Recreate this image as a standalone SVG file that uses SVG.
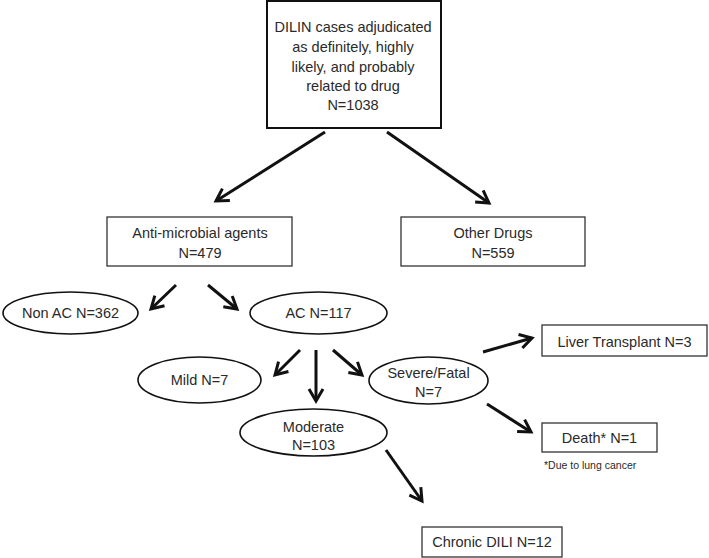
<svg xmlns="http://www.w3.org/2000/svg" width="709" height="558" viewBox="0 0 709 558">
<style>
text{font-family:"Liberation Sans",Arial,sans-serif;font-size:14.5px;fill:#2a2a2a;text-anchor:middle}
.box{fill:#fff;stroke:#333;stroke-width:1.3}
.bold{fill:#fff;stroke:#111;stroke-width:2}
.ell{fill:#fff;stroke:#111;stroke-width:1.6}
.arr{stroke:#111;stroke-width:3;fill:none;marker-end:url(#ah)}
text.note{font-size:10.5px;text-anchor:start}
</style>
<defs>
<marker id="ah" markerUnits="userSpaceOnUse" viewBox="-16 -10 20 20" refX="0" refY="0" markerWidth="20" markerHeight="20" orient="auto">
<path d="M-12,-7 L0,0 L-12,7" fill="none" stroke="#111" stroke-width="3"/>
</marker>
</defs>
<rect width="709" height="558" fill="#fff"/>
<g id="connectors">
<line class="arr" x1="325" y1="132" x2="216" y2="201"/>
<line class="arr" x1="387" y1="132" x2="489" y2="203"/>
<line class="arr" x1="176" y1="285" x2="151" y2="309"/>
<line class="arr" x1="208" y1="285" x2="237" y2="309"/>
<line class="arr" x1="300" y1="350" x2="275" y2="375"/>
<line class="arr" x1="316" y1="350" x2="316" y2="401"/>
<line class="arr" x1="333" y1="350" x2="362" y2="375"/>
<line class="arr" x1="483" y1="352" x2="532" y2="338"/>
<line class="arr" x1="487" y1="404" x2="531" y2="432"/>
<line class="arr" x1="386" y1="450" x2="422" y2="501"/>
</g>
<g id="root">
<rect class="bold" x="267" y="1" width="174" height="127"/>
<text x="353" y="32">DILIN cases adjudicated</text>
<text x="353" y="52">as definitely, highly</text>
<text x="353" y="72">likely, and probably</text>
<text x="353" y="91">related to drug</text>
<text x="353" y="110">N=1038</text>
</g>
<g id="antimicrobial">
<rect class="box" x="107" y="217" width="185" height="49"/>
<text x="200" y="238">Anti-microbial agents</text>
<text x="200" y="258">N=479</text>
</g>
<g id="other">
<rect class="box" x="401" y="217" width="184" height="49"/>
<text x="493" y="238">Other Drugs</text>
<text x="493" y="258">N=559</text>
</g>
<g id="nonac">
<ellipse class="ell" cx="70.5" cy="313" rx="67.5" ry="21"/>
<text x="70.5" y="318">Non AC N=362</text>
</g>
<g id="ac">
<ellipse class="ell" cx="318.5" cy="313" rx="68.5" ry="21"/>
<text x="318.5" y="318">AC N=117</text>
</g>
<g id="mild">
<ellipse class="ell" cx="199.5" cy="380" rx="61.5" ry="23"/>
<text x="199.5" y="385">Mild N=7</text>
</g>
<g id="moderate">
<ellipse class="ell" cx="313.5" cy="432.5" rx="73.5" ry="23.5"/>
<text x="313.5" y="432">Moderate</text>
<text x="313.5" y="450">N=103</text>
</g>
<g id="severe">
<ellipse class="ell" cx="428.5" cy="380.5" rx="59.5" ry="23.5"/>
<text x="428.5" y="378">Severe/Fatal</text>
<text x="428.5" y="397">N=7</text>
</g>
<g id="liver">
<rect class="box" x="542" y="325" width="165" height="31"/>
<text x="624.5" y="347">Liver Transplant N=3</text>
</g>
<g id="death">
<rect class="box" x="542" y="423" width="115" height="29"/>
<text x="599.5" y="443">Death* N=1</text>
<text class="note" x="544" y="469" text-anchor="start">*Due to lung cancer</text>
</g>
<g id="chronic">
<rect class="box" x="422" y="527" width="140" height="30"/>
<text x="492" y="547">Chronic DILI N=12</text>
</g>
</svg>
